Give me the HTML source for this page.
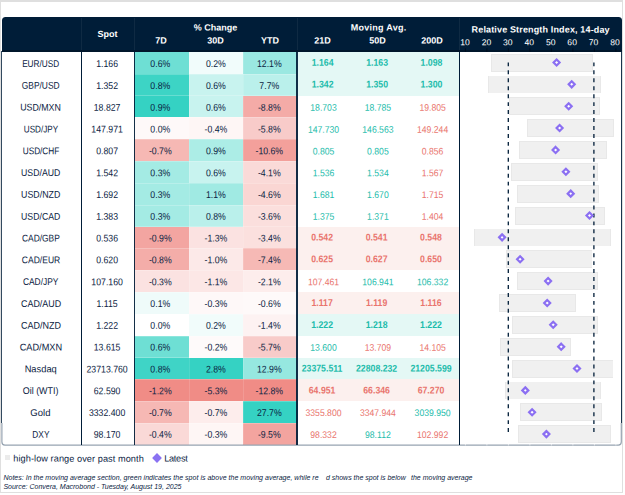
<!DOCTYPE html>
<html><head><meta charset="utf-8"><title>FX table</title>
<style>
html,body{margin:0;padding:0;background:#fff;}
body{width:625px;height:495px;position:relative;overflow:hidden;font-family:"Liberation Sans",sans-serif;}
div,span,svg{position:absolute;box-sizing:border-box;}
.t{white-space:nowrap;text-align:center;color:#0a2242;font-size:9.8px;line-height:12px;height:12px;}
.nm{font-size:9.8px;}
.m{font-size:9.6px;}
.b{font-weight:bold;font-size:9.8px;}
.l{white-space:nowrap;color:#0a2242;line-height:12px;height:12px;}
.h{white-space:nowrap;text-align:center;color:#fff;font-weight:bold;font-size:9px;line-height:12px;height:12px;}
.ax{white-space:nowrap;text-align:center;color:#fff;font-size:8.6px;line-height:12px;height:12px;width:20px;}
.g{color:#1cbcab}.r{color:#e9746d}
.c{}
.v{background:#001d38;}
</style></head><body>

<div style="left:0;top:0;width:623.4px;height:1.6px;background:#dfdfdf"></div>
<div style="left:0;top:0;width:1.3px;height:492.9px;background:#dfdfdf"></div>
<div style="left:622.3px;top:0;width:1.1px;height:492.9px;background:#dfdfdf"></div>
<div style="left:0;top:491.6px;width:623.4px;height:1.3px;background:#dfdfdf"></div>
<div style="left:1.8px;top:17px;width:620.1px;height:34.9px;background:#001d38;border-radius:3.5px 3.5px 0 0;"></div>
<div style="left:1.8px;top:50.2px;width:620.1px;height:1.7px;background:#000;opacity:.22"></div>
<div style="left:80.9px;top:18px;width:1px;height:32.2px;background:#fff;opacity:.06"></div>
<div style="left:133.9px;top:18px;width:1px;height:32.2px;background:#fff;opacity:.06"></div>
<div style="left:296.5px;top:18px;width:1px;height:32.2px;background:#fff;opacity:.06"></div>
<div style="left:458.9px;top:18px;width:1px;height:32.2px;background:#fff;opacity:.06"></div>
<div class="c" style="left:134.4px;top:51.9px;width:55.2px;height:22.63px;background:#6edfd4"></div>
<div class="c" style="left:188.8px;top:51.9px;width:54.9px;height:22.63px;background:#f1fcfb"></div>
<div class="c" style="left:242.9px;top:51.9px;width:54.9px;height:22.63px;background:#9ae8e1"></div>
<div class="c" style="left:297px;top:51.9px;width:162.4px;height:22.63px;background:#e4f8f5"></div>
<div class="c" style="left:134.4px;top:73.73px;width:55.2px;height:22.63px;background:#3dd4c5"></div>
<div class="c" style="left:188.8px;top:73.73px;width:54.9px;height:22.63px;background:#c8f3ef"></div>
<div class="c" style="left:242.9px;top:73.73px;width:54.9px;height:22.63px;background:#baf0eb"></div>
<div class="c" style="left:297px;top:73.73px;width:162.4px;height:21.83px;background:#e4f8f5"></div>
<div class="c" style="left:134.4px;top:95.56px;width:55.2px;height:22.63px;background:#35d2c3"></div>
<div class="c" style="left:188.8px;top:95.56px;width:54.9px;height:22.63px;background:#c8f3ef"></div>
<div class="c" style="left:242.9px;top:95.56px;width:54.9px;height:22.63px;background:#f4aba7"></div>
<div class="c" style="left:134.4px;top:117.39px;width:55.2px;height:22.63px;background:#fef9f9"></div>
<div class="c" style="left:188.8px;top:117.39px;width:54.9px;height:22.63px;background:#fef6f5"></div>
<div class="c" style="left:242.9px;top:117.39px;width:54.9px;height:22.63px;background:#f8cbc9"></div>
<div class="c" style="left:134.4px;top:139.22px;width:55.2px;height:22.63px;background:#f6b8b4"></div>
<div class="c" style="left:188.8px;top:139.22px;width:54.9px;height:22.63px;background:#acede6"></div>
<div class="c" style="left:242.9px;top:139.22px;width:54.9px;height:22.63px;background:#f3a09b"></div>
<div class="c" style="left:134.4px;top:161.05px;width:55.2px;height:22.63px;background:#a4ebe4"></div>
<div class="c" style="left:188.8px;top:161.05px;width:54.9px;height:22.63px;background:#c8f3ef"></div>
<div class="c" style="left:242.9px;top:161.05px;width:54.9px;height:22.63px;background:#fadad8"></div>
<div class="c" style="left:134.4px;top:182.88px;width:55.2px;height:22.63px;background:#a4ebe4"></div>
<div class="c" style="left:188.8px;top:182.88px;width:54.9px;height:22.63px;background:#a0eae3"></div>
<div class="c" style="left:242.9px;top:182.88px;width:54.9px;height:22.63px;background:#fad6d3"></div>
<div class="c" style="left:134.4px;top:204.71px;width:55.2px;height:22.63px;background:#a4ebe4"></div>
<div class="c" style="left:188.8px;top:204.71px;width:54.9px;height:22.63px;background:#baf0eb"></div>
<div class="c" style="left:242.9px;top:204.71px;width:54.9px;height:22.63px;background:#fbdfdd"></div>
<div class="c" style="left:134.4px;top:226.54px;width:55.2px;height:22.63px;background:#f3a5a1"></div>
<div class="c" style="left:188.8px;top:226.54px;width:54.9px;height:22.63px;background:#fbe2e1"></div>
<div class="c" style="left:242.9px;top:226.54px;width:54.9px;height:22.63px;background:#fbe0de"></div>
<div class="c" style="left:297px;top:226.54px;width:162.4px;height:22.63px;background:#fcf0ee"></div>
<div class="c" style="left:134.4px;top:248.37px;width:55.2px;height:22.63px;background:#f4ada9"></div>
<div class="c" style="left:188.8px;top:248.37px;width:54.9px;height:22.63px;background:#fce9e8"></div>
<div class="c" style="left:242.9px;top:248.37px;width:54.9px;height:22.63px;background:#f6b9b5"></div>
<div class="c" style="left:297px;top:248.37px;width:162.4px;height:21.83px;background:#fcf0ee"></div>
<div class="c" style="left:134.4px;top:270.2px;width:55.2px;height:22.63px;background:#fbe2e1"></div>
<div class="c" style="left:188.8px;top:270.2px;width:54.9px;height:22.63px;background:#fce7e6"></div>
<div class="c" style="left:242.9px;top:270.2px;width:54.9px;height:22.63px;background:#fdedec"></div>
<div class="c" style="left:134.4px;top:292.03px;width:55.2px;height:22.63px;background:#effbfa"></div>
<div class="c" style="left:188.8px;top:292.03px;width:54.9px;height:22.63px;background:#fef8f8"></div>
<div class="c" style="left:242.9px;top:292.03px;width:54.9px;height:22.63px;background:#fef9f9"></div>
<div class="c" style="left:297px;top:292.03px;width:162.4px;height:22.63px;background:#fcf0ee"></div>
<div class="c" style="left:134.4px;top:313.86px;width:55.2px;height:22.63px;background:#ffffff"></div>
<div class="c" style="left:188.8px;top:313.86px;width:54.9px;height:22.63px;background:#f1fcfb"></div>
<div class="c" style="left:242.9px;top:313.86px;width:54.9px;height:22.63px;background:#fdf2f2"></div>
<div class="c" style="left:297px;top:313.86px;width:162.4px;height:21.83px;background:#e4f8f5"></div>
<div class="c" style="left:134.4px;top:335.69px;width:55.2px;height:22.63px;background:#6edfd4"></div>
<div class="c" style="left:188.8px;top:335.69px;width:54.9px;height:22.63px;background:#fefafa"></div>
<div class="c" style="left:242.9px;top:335.69px;width:54.9px;height:22.63px;background:#f8cbc9"></div>
<div class="c" style="left:134.4px;top:357.52px;width:55.2px;height:22.63px;background:#3fd4c6"></div>
<div class="c" style="left:188.8px;top:357.52px;width:54.9px;height:22.63px;background:#35d2c3"></div>
<div class="c" style="left:242.9px;top:357.52px;width:54.9px;height:22.63px;background:#96e8e0"></div>
<div class="c" style="left:297px;top:357.52px;width:162.4px;height:22.63px;background:#e4f8f5"></div>
<div class="c" style="left:134.4px;top:379.35px;width:55.2px;height:22.63px;background:#f08c86"></div>
<div class="c" style="left:188.8px;top:379.35px;width:54.9px;height:22.63px;background:#f08c86"></div>
<div class="c" style="left:242.9px;top:379.35px;width:54.9px;height:22.63px;background:#f08c86"></div>
<div class="c" style="left:297px;top:379.35px;width:162.4px;height:21.83px;background:#fcf0ee"></div>
<div class="c" style="left:134.4px;top:401.18px;width:55.2px;height:22.63px;background:#f6b8b4"></div>
<div class="c" style="left:188.8px;top:401.18px;width:54.9px;height:22.63px;background:#fdedec"></div>
<div class="c" style="left:242.9px;top:401.18px;width:54.9px;height:22.63px;background:#35d2c3"></div>
<div class="c" style="left:134.4px;top:423.01px;width:55.2px;height:21.63px;background:#fad9d7"></div>
<div class="c" style="left:188.8px;top:423.01px;width:54.9px;height:21.63px;background:#fef6f5"></div>
<div class="c" style="left:242.9px;top:423.01px;width:54.9px;height:21.63px;background:#f3a49f"></div>
<div style="left:135px;top:73.63px;width:161.4px;height:1px;background:#fff;opacity:.22"></div>
<div style="left:135px;top:95.46px;width:161.4px;height:1px;background:#fff;opacity:.22"></div>
<div style="left:135px;top:117.29px;width:161.4px;height:1px;background:#fff;opacity:.22"></div>
<div style="left:135px;top:139.12px;width:161.4px;height:1px;background:#fff;opacity:.22"></div>
<div style="left:135px;top:160.95px;width:161.4px;height:1px;background:#fff;opacity:.22"></div>
<div style="left:135px;top:182.78px;width:161.4px;height:1px;background:#fff;opacity:.22"></div>
<div style="left:135px;top:204.61px;width:161.4px;height:1px;background:#fff;opacity:.22"></div>
<div style="left:135px;top:226.44px;width:161.4px;height:1px;background:#fff;opacity:.22"></div>
<div style="left:135px;top:248.27px;width:161.4px;height:1px;background:#fff;opacity:.22"></div>
<div style="left:135px;top:270.1px;width:161.4px;height:1px;background:#fff;opacity:.22"></div>
<div style="left:135px;top:291.93px;width:161.4px;height:1px;background:#fff;opacity:.22"></div>
<div style="left:135px;top:313.76px;width:161.4px;height:1px;background:#fff;opacity:.22"></div>
<div style="left:135px;top:335.59px;width:161.4px;height:1px;background:#fff;opacity:.22"></div>
<div style="left:135px;top:357.42px;width:161.4px;height:1px;background:#fff;opacity:.22"></div>
<div style="left:135px;top:379.25px;width:161.4px;height:1px;background:#fff;opacity:.22"></div>
<div style="left:135px;top:401.08px;width:161.4px;height:1px;background:#fff;opacity:.22"></div>
<div style="left:135px;top:422.91px;width:161.4px;height:1px;background:#fff;opacity:.22"></div>
<div style="left:189.3px;top:51.9px;width:1px;height:392.34px;background:#fff;opacity:.13"></div>
<div style="left:243.4px;top:51.9px;width:1px;height:392.34px;background:#fff;opacity:.13"></div>
<div style="left:491.3px;top:53.68px;width:101.7px;height:17.9px;background:#e8e8e8"></div>
<div style="left:492.2px;top:54.58px;width:99.9px;height:16.1px;background:#f0f0f0"></div>
<div style="left:488.1px;top:75.54px;width:113.1px;height:17.9px;background:#e8e8e8"></div>
<div style="left:489px;top:76.44px;width:111.3px;height:16.1px;background:#f0f0f0"></div>
<div style="left:508.7px;top:97.4px;width:90.9px;height:17.9px;background:#e8e8e8"></div>
<div style="left:509.6px;top:98.3px;width:89.1px;height:16.1px;background:#f0f0f0"></div>
<div style="left:526.7px;top:119.26px;width:87px;height:17.9px;background:#e8e8e8"></div>
<div style="left:527.6px;top:120.16px;width:85.2px;height:16.1px;background:#f0f0f0"></div>
<div style="left:518.8px;top:141.12px;width:88.6px;height:17.9px;background:#e8e8e8"></div>
<div style="left:519.7px;top:142.02px;width:86.8px;height:16.1px;background:#f0f0f0"></div>
<div style="left:510.9px;top:162.98px;width:87.3px;height:17.9px;background:#e8e8e8"></div>
<div style="left:511.8px;top:163.88px;width:85.5px;height:16.1px;background:#f0f0f0"></div>
<div style="left:517.4px;top:184.84px;width:82px;height:17.9px;background:#e8e8e8"></div>
<div style="left:518.3px;top:185.74px;width:80.2px;height:16.1px;background:#f0f0f0"></div>
<div style="left:514.6px;top:206.7px;width:90.4px;height:17.9px;background:#e8e8e8"></div>
<div style="left:515.5px;top:207.6px;width:88.6px;height:16.1px;background:#f0f0f0"></div>
<div style="left:473.9px;top:228.56px;width:137px;height:17.9px;background:#e8e8e8"></div>
<div style="left:474.8px;top:229.46px;width:135.2px;height:16.1px;background:#f0f0f0"></div>
<div style="left:505.8px;top:250.42px;width:86.7px;height:17.9px;background:#e8e8e8"></div>
<div style="left:506.7px;top:251.32px;width:84.9px;height:16.1px;background:#f0f0f0"></div>
<div style="left:516.6px;top:272.28px;width:81.2px;height:17.9px;background:#e8e8e8"></div>
<div style="left:517.5px;top:273.18px;width:79.4px;height:16.1px;background:#f0f0f0"></div>
<div style="left:499px;top:294.14px;width:77.2px;height:17.9px;background:#e8e8e8"></div>
<div style="left:499.9px;top:295.04px;width:75.4px;height:16.1px;background:#f0f0f0"></div>
<div style="left:512.4px;top:316px;width:85.5px;height:17.9px;background:#e8e8e8"></div>
<div style="left:513.3px;top:316.9px;width:83.7px;height:16.1px;background:#f0f0f0"></div>
<div style="left:500.2px;top:337.86px;width:70.7px;height:17.9px;background:#e8e8e8"></div>
<div style="left:501.1px;top:338.76px;width:68.9px;height:16.1px;background:#f0f0f0"></div>
<div style="left:511.9px;top:359.72px;width:101.6px;height:17.9px;background:#e8e8e8"></div>
<div style="left:512.8px;top:360.62px;width:99.8px;height:16.1px;background:#f0f0f0"></div>
<div style="left:505.1px;top:381.58px;width:95.7px;height:17.9px;background:#e8e8e8"></div>
<div style="left:506px;top:382.48px;width:93.9px;height:16.1px;background:#f0f0f0"></div>
<div style="left:520.4px;top:403.44px;width:81.2px;height:17.9px;background:#e8e8e8"></div>
<div style="left:521.3px;top:404.34px;width:79.4px;height:16.1px;background:#f0f0f0"></div>
<div style="left:518px;top:425.3px;width:92.9px;height:17.9px;background:#e8e8e8"></div>
<div style="left:518.9px;top:426.2px;width:91.1px;height:16.1px;background:#f0f0f0"></div>
<svg width="625" height="495" viewBox="0 0 625 495" style="left:0;top:0">
<line x1="508.3" y1="62.4" x2="508.3" y2="432.2" stroke="#001d38" stroke-width="1.3" stroke-dasharray="3.95 4"/>
<line x1="593.9" y1="62.4" x2="593.9" y2="432.2" stroke="#001d38" stroke-width="1.3" stroke-dasharray="3.95 4"/>
<path d="M556.6 59.48L559.6 62.48L556.6 65.48L553.6 62.48Z" fill="#fff" stroke="#8b6ff2" stroke-width="2.2" stroke-linejoin="miter"/>
<path d="M571.7 81.34L574.7 84.34L571.7 87.34L568.7 84.34Z" fill="#fff" stroke="#8b6ff2" stroke-width="2.2" stroke-linejoin="miter"/>
<path d="M568.7 103.2L571.7 106.2L568.7 109.2L565.7 106.2Z" fill="#fff" stroke="#8b6ff2" stroke-width="2.2" stroke-linejoin="miter"/>
<path d="M559.6 125.06L562.6 128.06L559.6 131.06L556.6 128.06Z" fill="#fff" stroke="#8b6ff2" stroke-width="2.2" stroke-linejoin="miter"/>
<path d="M555.6 146.92L558.6 149.92L555.6 152.92L552.6 149.92Z" fill="#fff" stroke="#8b6ff2" stroke-width="2.2" stroke-linejoin="miter"/>
<path d="M565.9 168.78L568.9 171.78L565.9 174.78L562.9 171.78Z" fill="#fff" stroke="#8b6ff2" stroke-width="2.2" stroke-linejoin="miter"/>
<path d="M570.7 190.64L573.7 193.64L570.7 196.64L567.7 193.64Z" fill="#fff" stroke="#8b6ff2" stroke-width="2.2" stroke-linejoin="miter"/>
<path d="M589.5 212.5L592.5 215.5L589.5 218.5L586.5 215.5Z" fill="#fff" stroke="#8b6ff2" stroke-width="2.2" stroke-linejoin="miter"/>
<path d="M502.1 234.36L505.1 237.36L502.1 240.36L499.1 237.36Z" fill="#fff" stroke="#8b6ff2" stroke-width="2.2" stroke-linejoin="miter"/>
<path d="M520.1 256.22L523.1 259.22L520.1 262.22L517.1 259.22Z" fill="#fff" stroke="#8b6ff2" stroke-width="2.2" stroke-linejoin="miter"/>
<path d="M548.1 278.08L551.1 281.08L548.1 284.08L545.1 281.08Z" fill="#fff" stroke="#8b6ff2" stroke-width="2.2" stroke-linejoin="miter"/>
<path d="M547.2 299.94L550.2 302.94L547.2 305.94L544.2 302.94Z" fill="#fff" stroke="#8b6ff2" stroke-width="2.2" stroke-linejoin="miter"/>
<path d="M553.2 321.8L556.2 324.8L553.2 327.8L550.2 324.8Z" fill="#fff" stroke="#8b6ff2" stroke-width="2.2" stroke-linejoin="miter"/>
<path d="M561.2 343.66L564.2 346.66L561.2 349.66L558.2 346.66Z" fill="#fff" stroke="#8b6ff2" stroke-width="2.2" stroke-linejoin="miter"/>
<path d="M577 365.52L580 368.52L577 371.52L574 368.52Z" fill="#fff" stroke="#8b6ff2" stroke-width="2.2" stroke-linejoin="miter"/>
<path d="M525.3 387.38L528.3 390.38L525.3 393.38L522.3 390.38Z" fill="#fff" stroke="#8b6ff2" stroke-width="2.2" stroke-linejoin="miter"/>
<path d="M532.1 409.24L535.1 412.24L532.1 415.24L529.1 412.24Z" fill="#fff" stroke="#8b6ff2" stroke-width="2.2" stroke-linejoin="miter"/>
<path d="M546.4 431.1L549.4 434.1L546.4 437.1L543.4 434.1Z" fill="#fff" stroke="#8b6ff2" stroke-width="2.2" stroke-linejoin="miter"/>
<line x1="465.4" y1="48.3" x2="465.4" y2="52" stroke="#000d1c" stroke-width="1"/>
<line x1="486.9" y1="48.3" x2="486.9" y2="52" stroke="#000d1c" stroke-width="1"/>
<line x1="508.4" y1="48.3" x2="508.4" y2="52" stroke="#000d1c" stroke-width="1"/>
<line x1="529.9" y1="48.3" x2="529.9" y2="52" stroke="#000d1c" stroke-width="1"/>
<line x1="551.4" y1="48.3" x2="551.4" y2="52" stroke="#000d1c" stroke-width="1"/>
<line x1="572.9" y1="48.3" x2="572.9" y2="52" stroke="#000d1c" stroke-width="1"/>
<line x1="594.4" y1="48.3" x2="594.4" y2="52" stroke="#000d1c" stroke-width="1"/>
<line x1="615.9" y1="48.3" x2="615.9" y2="52" stroke="#000d1c" stroke-width="1"/>
<path d="M1.9 423.01L1.9 442.1Q1.9 445.1 4.9 445.1L618.3 445.1Q621.3 445.1 621.3 442.1L621.3 423.01" fill="none" stroke="#97a4b1" stroke-width="1.2"/>
<line x1="465.4" y1="444.2" x2="465.4" y2="445.4" stroke="#fff" stroke-width="1" opacity=".8"/>
<line x1="486.9" y1="444.2" x2="486.9" y2="445.4" stroke="#fff" stroke-width="1" opacity=".8"/>
<line x1="508.4" y1="444.2" x2="508.4" y2="445.4" stroke="#fff" stroke-width="1" opacity=".8"/>
<line x1="529.9" y1="444.2" x2="529.9" y2="445.4" stroke="#fff" stroke-width="1" opacity=".8"/>
<line x1="551.4" y1="444.2" x2="551.4" y2="445.4" stroke="#fff" stroke-width="1" opacity=".8"/>
<line x1="572.9" y1="444.2" x2="572.9" y2="445.4" stroke="#fff" stroke-width="1" opacity=".8"/>
<line x1="594.4" y1="444.2" x2="594.4" y2="445.4" stroke="#fff" stroke-width="1" opacity=".8"/>
<line x1="615.9" y1="444.2" x2="615.9" y2="445.4" stroke="#fff" stroke-width="1" opacity=".8"/>
</svg>
<div class="v" style="left:1.3px;top:50.9px;width:1.2px;height:372.11px;opacity:.8"></div>
<div class="v" style="left:620.7px;top:50.9px;width:1.2px;height:372.11px;opacity:.9"></div>
<div class="v" style="left:80.9px;top:51.9px;width:1px;height:392.8px;"></div>
<div class="v" style="left:133.75px;top:51.9px;width:1.3px;height:392.8px;opacity:.92"></div>
<div class="v" style="left:296.35px;top:51.9px;width:1.3px;height:392.8px;opacity:.92"></div>
<div class="v" style="left:458.75px;top:51.9px;width:1.3px;height:392.8px;"></div>
<div class="h" style="left:27px;top:28px;width:160px;transform:translate(0.5px,0px) scaleX(1) rotate(.03deg)">Spot</div>
<div class="h" style="left:135px;top:21px;width:160px;transform:translate(0.5px,0.6px) scaleX(1) rotate(.03deg)">% Change</div>
<div class="h" style="left:81px;top:34px;width:160px;transform:translate(0px,0.6px) scaleX(1) rotate(.03deg)">7D</div>
<div class="h" style="left:135px;top:34px;width:160px;transform:translate(0.6px,0.6px) scaleX(1) rotate(.03deg)">30D</div>
<div class="h" style="left:190px;top:34px;width:160px;transform:translate(0.1px,0.6px) scaleX(1) rotate(.03deg)">YTD</div>
<div class="h" style="left:298px;top:21px;width:160px;transform:translate(0.6px,0.6px) scaleX(1) rotate(.03deg)"><span style="position:static;letter-spacing:.25px">Moving Avg.</span></div>
<div class="h" style="left:242px;top:34px;width:160px;transform:translate(0.4px,0.6px) scaleX(1) rotate(.03deg)">21D</div>
<div class="h" style="left:297px;top:34px;width:160px;transform:translate(0.5px,0.6px) scaleX(1) rotate(.03deg)">50D</div>
<div class="h" style="left:351px;top:34px;width:160px;transform:translate(0.9px,0.6px) scaleX(1) rotate(.03deg)">200D</div>
<div class="h" style="left:440px;top:23px;width:200px;transform:translate(0.7px,0.6px) scaleX(1) rotate(.03deg)"><span style="position:static;letter-spacing:.15px">Relative Strength Index, 14-day</span></div>
<div class="ax" style="left:455px;top:36px;width:20px;transform:translate(0px,0.3px) scaleX(1) rotate(.03deg)">10</div>
<div class="ax" style="left:476px;top:36px;width:20px;transform:translate(0.43px,0.3px) scaleX(1) rotate(.03deg)">20</div>
<div class="ax" style="left:497px;top:36px;width:20px;transform:translate(0.86px,0.3px) scaleX(1) rotate(.03deg)">30</div>
<div class="ax" style="left:519px;top:36px;width:20px;transform:translate(0.29px,0.3px) scaleX(1) rotate(.03deg)">40</div>
<div class="ax" style="left:540px;top:36px;width:20px;transform:translate(0.72px,0.3px) scaleX(1) rotate(.03deg)">50</div>
<div class="ax" style="left:562px;top:36px;width:20px;transform:translate(0.15px,0.3px) scaleX(1) rotate(.03deg)">60</div>
<div class="ax" style="left:583px;top:36px;width:20px;transform:translate(0.58px,0.3px) scaleX(1) rotate(.03deg)">70</div>
<div class="ax" style="left:605px;top:36px;width:20px;transform:translate(0.01px,0.3px) scaleX(1) rotate(.03deg)">80</div>
<div class="t nm" style="left:5px;top:58px;width:70px;transform:translate(0.65px,0.02px) scaleX(0.84) rotate(.03deg)">EUR/USD</div>
<div class="t" style="left:72px;top:58px;width:70px;transform:translate(0.1px,0.12px) scaleX(0.89) rotate(.03deg)">1.166</div>
<div class="t" style="left:125px;top:58px;width:70px;transform:translate(0.3px,0.12px) scaleX(0.89) rotate(.03deg)">0.6%</div>
<div class="t" style="left:180px;top:58px;width:70px;transform:translate(0.9px,0.12px) scaleX(0.89) rotate(.03deg)">0.2%</div>
<div class="t" style="left:234px;top:58px;width:70px;transform:translate(0.3px,0.12px) scaleX(0.89) rotate(.03deg)">12.1%</div>
<div class="t b g" style="left:287px;top:56px;width:70px;transform:translate(0.6px,0.72px) scaleX(0.89) rotate(.03deg)">1.164</div>
<div class="t b g" style="left:342px;top:56px;width:70px;transform:translate(0.1px,0.72px) scaleX(0.89) rotate(.03deg)">1.163</div>
<div class="t b g" style="left:396px;top:56px;width:70px;transform:translate(0.5px,0.72px) scaleX(0.89) rotate(.03deg)">1.098</div>
<div class="t nm" style="left:5px;top:79px;width:70px;transform:translate(0.7px,0.83px) scaleX(0.86) rotate(.03deg)">GBP/USD</div>
<div class="t" style="left:72px;top:79px;width:70px;transform:translate(0.1px,0.93px) scaleX(0.89) rotate(.03deg)">1.352</div>
<div class="t" style="left:125px;top:79px;width:70px;transform:translate(0.3px,0.93px) scaleX(0.89) rotate(.03deg)">0.8%</div>
<div class="t" style="left:180px;top:79px;width:70px;transform:translate(0.9px,0.93px) scaleX(0.89) rotate(.03deg)">0.6%</div>
<div class="t" style="left:234px;top:79px;width:70px;transform:translate(0.3px,0.93px) scaleX(0.89) rotate(.03deg)">7.7%</div>
<div class="t b g" style="left:287px;top:78px;width:70px;transform:translate(0.6px,0.57px) scaleX(0.89) rotate(.03deg)">1.342</div>
<div class="t b g" style="left:342px;top:78px;width:70px;transform:translate(0.1px,0.57px) scaleX(0.89) rotate(.03deg)">1.350</div>
<div class="t b g" style="left:396px;top:78px;width:70px;transform:translate(0.5px,0.57px) scaleX(0.89) rotate(.03deg)">1.300</div>
<div class="t nm" style="left:5px;top:101px;width:70px;transform:translate(0.55px,0.63px) scaleX(0.9) rotate(.03deg)">USD/MXN</div>
<div class="t" style="left:72px;top:101px;width:70px;transform:translate(0.1px,0.73px) scaleX(0.89) rotate(.03deg)">18.827</div>
<div class="t" style="left:125px;top:101px;width:70px;transform:translate(0.3px,0.73px) scaleX(0.89) rotate(.03deg)">0.9%</div>
<div class="t" style="left:180px;top:101px;width:70px;transform:translate(0.9px,0.73px) scaleX(0.89) rotate(.03deg)">0.6%</div>
<div class="t" style="left:234px;top:101px;width:70px;transform:translate(0.3px,0.73px) scaleX(0.89) rotate(.03deg)">-8.8%</div>
<div class="t m g" style="left:288px;top:101px;width:70px;transform:translate(0.5px,0.83px) scaleX(0.9) rotate(.03deg)">18.703</div>
<div class="t m g" style="left:342px;top:101px;width:70px;transform:translate(0.9px,0.83px) scaleX(0.9) rotate(.03deg)">18.785</div>
<div class="t m r" style="left:397px;top:101px;width:70px;transform:translate(0.6px,0.83px) scaleX(0.9) rotate(.03deg)">19.805</div>
<div class="t nm" style="left:6px;top:123px;width:70px;transform:translate(0px,0.44px) scaleX(0.83) rotate(.03deg)">USD/JPY</div>
<div class="t" style="left:72px;top:123px;width:70px;transform:translate(0.1px,0.54px) scaleX(0.89) rotate(.03deg)">147.971</div>
<div class="t" style="left:125px;top:123px;width:70px;transform:translate(0.3px,0.54px) scaleX(0.89) rotate(.03deg)">0.0%</div>
<div class="t" style="left:180px;top:123px;width:70px;transform:translate(0.9px,0.54px) scaleX(0.89) rotate(.03deg)">-0.4%</div>
<div class="t" style="left:234px;top:123px;width:70px;transform:translate(0.3px,0.54px) scaleX(0.89) rotate(.03deg)">-5.8%</div>
<div class="t m g" style="left:288px;top:123px;width:70px;transform:translate(0.5px,0.64px) scaleX(0.9) rotate(.03deg)">147.730</div>
<div class="t m g" style="left:342px;top:123px;width:70px;transform:translate(0.9px,0.64px) scaleX(0.9) rotate(.03deg)">146.563</div>
<div class="t m r" style="left:397px;top:123px;width:70px;transform:translate(0.6px,0.64px) scaleX(0.9) rotate(.03deg)">149.244</div>
<div class="t nm" style="left:6px;top:145px;width:70px;transform:translate(0px,0.24px) scaleX(0.84) rotate(.03deg)">USD/CHF</div>
<div class="t" style="left:72px;top:145px;width:70px;transform:translate(0.1px,0.34px) scaleX(0.89) rotate(.03deg)">0.807</div>
<div class="t" style="left:125px;top:145px;width:70px;transform:translate(0.3px,0.34px) scaleX(0.89) rotate(.03deg)">-0.7%</div>
<div class="t" style="left:180px;top:145px;width:70px;transform:translate(0.9px,0.34px) scaleX(0.89) rotate(.03deg)">0.9%</div>
<div class="t" style="left:234px;top:145px;width:70px;transform:translate(0.3px,0.34px) scaleX(0.89) rotate(.03deg)">-10.6%</div>
<div class="t m g" style="left:288px;top:145px;width:70px;transform:translate(0.5px,0.44px) scaleX(0.9) rotate(.03deg)">0.805</div>
<div class="t m g" style="left:342px;top:145px;width:70px;transform:translate(0.9px,0.44px) scaleX(0.9) rotate(.03deg)">0.805</div>
<div class="t m r" style="left:397px;top:145px;width:70px;transform:translate(0.6px,0.44px) scaleX(0.9) rotate(.03deg)">0.856</div>
<div class="t nm" style="left:5px;top:167px;width:70px;transform:translate(0.7px,0.05px) scaleX(0.89) rotate(.03deg)">USD/AUD</div>
<div class="t" style="left:72px;top:167px;width:70px;transform:translate(0.1px,0.15px) scaleX(0.89) rotate(.03deg)">1.542</div>
<div class="t" style="left:125px;top:167px;width:70px;transform:translate(0.3px,0.15px) scaleX(0.89) rotate(.03deg)">0.3%</div>
<div class="t" style="left:180px;top:167px;width:70px;transform:translate(0.9px,0.15px) scaleX(0.89) rotate(.03deg)">0.6%</div>
<div class="t" style="left:234px;top:167px;width:70px;transform:translate(0.3px,0.15px) scaleX(0.89) rotate(.03deg)">-4.1%</div>
<div class="t m g" style="left:288px;top:167px;width:70px;transform:translate(0.5px,0.25px) scaleX(0.9) rotate(.03deg)">1.536</div>
<div class="t m g" style="left:342px;top:167px;width:70px;transform:translate(0.9px,0.25px) scaleX(0.9) rotate(.03deg)">1.534</div>
<div class="t m r" style="left:397px;top:167px;width:70px;transform:translate(0.6px,0.25px) scaleX(0.9) rotate(.03deg)">1.567</div>
<div class="t nm" style="left:5px;top:188px;width:70px;transform:translate(0.7px,0.86px) scaleX(0.9) rotate(.03deg)">USD/NZD</div>
<div class="t" style="left:72px;top:188px;width:70px;transform:translate(0.1px,0.96px) scaleX(0.89) rotate(.03deg)">1.692</div>
<div class="t" style="left:125px;top:188px;width:70px;transform:translate(0.3px,0.96px) scaleX(0.89) rotate(.03deg)">0.3%</div>
<div class="t" style="left:180px;top:188px;width:70px;transform:translate(0.9px,0.96px) scaleX(0.89) rotate(.03deg)">1.1%</div>
<div class="t" style="left:234px;top:188px;width:70px;transform:translate(0.3px,0.96px) scaleX(0.89) rotate(.03deg)">-4.6%</div>
<div class="t m g" style="left:288px;top:189px;width:70px;transform:translate(0.5px,0.06px) scaleX(0.9) rotate(.03deg)">1.681</div>
<div class="t m g" style="left:342px;top:189px;width:70px;transform:translate(0.9px,0.06px) scaleX(0.9) rotate(.03deg)">1.670</div>
<div class="t m r" style="left:397px;top:189px;width:70px;transform:translate(0.6px,0.06px) scaleX(0.9) rotate(.03deg)">1.715</div>
<div class="t nm" style="left:5px;top:210px;width:70px;transform:translate(0.7px,0.66px) scaleX(0.89) rotate(.03deg)">USD/CAD</div>
<div class="t" style="left:72px;top:210px;width:70px;transform:translate(0.1px,0.76px) scaleX(0.89) rotate(.03deg)">1.383</div>
<div class="t" style="left:125px;top:210px;width:70px;transform:translate(0.3px,0.76px) scaleX(0.89) rotate(.03deg)">0.3%</div>
<div class="t" style="left:180px;top:210px;width:70px;transform:translate(0.9px,0.76px) scaleX(0.89) rotate(.03deg)">0.8%</div>
<div class="t" style="left:234px;top:210px;width:70px;transform:translate(0.3px,0.76px) scaleX(0.89) rotate(.03deg)">-3.6%</div>
<div class="t m g" style="left:288px;top:210px;width:70px;transform:translate(0.5px,0.86px) scaleX(0.9) rotate(.03deg)">1.375</div>
<div class="t m g" style="left:342px;top:210px;width:70px;transform:translate(0.9px,0.86px) scaleX(0.9) rotate(.03deg)">1.371</div>
<div class="t m r" style="left:397px;top:210px;width:70px;transform:translate(0.6px,0.86px) scaleX(0.9) rotate(.03deg)">1.404</div>
<div class="t nm" style="left:5px;top:232px;width:70px;transform:translate(0.9px,0.47px) scaleX(0.86) rotate(.03deg)">CAD/GBP</div>
<div class="t" style="left:72px;top:232px;width:70px;transform:translate(0.1px,0.57px) scaleX(0.89) rotate(.03deg)">0.536</div>
<div class="t" style="left:125px;top:232px;width:70px;transform:translate(0.3px,0.57px) scaleX(0.89) rotate(.03deg)">-0.9%</div>
<div class="t" style="left:180px;top:232px;width:70px;transform:translate(0.9px,0.57px) scaleX(0.89) rotate(.03deg)">-1.3%</div>
<div class="t" style="left:234px;top:232px;width:70px;transform:translate(0.3px,0.57px) scaleX(0.89) rotate(.03deg)">-3.4%</div>
<div class="t b r" style="left:287px;top:231px;width:70px;transform:translate(0.1px,0.52px) scaleX(0.89) rotate(.03deg)">0.542</div>
<div class="t b r" style="left:341px;top:231px;width:70px;transform:translate(0.6px,0.52px) scaleX(0.89) rotate(.03deg)">0.541</div>
<div class="t b r" style="left:396px;top:231px;width:70px;transform:translate(0px,0.52px) scaleX(0.89) rotate(.03deg)">0.548</div>
<div class="t nm" style="left:6px;top:254px;width:70px;transform:translate(0.05px,0.27px) scaleX(0.87) rotate(.03deg)">CAD/EUR</div>
<div class="t" style="left:72px;top:254px;width:70px;transform:translate(0.1px,0.37px) scaleX(0.89) rotate(.03deg)">0.620</div>
<div class="t" style="left:125px;top:254px;width:70px;transform:translate(0.3px,0.37px) scaleX(0.89) rotate(.03deg)">-0.8%</div>
<div class="t" style="left:180px;top:254px;width:70px;transform:translate(0.9px,0.37px) scaleX(0.89) rotate(.03deg)">-1.0%</div>
<div class="t" style="left:234px;top:254px;width:70px;transform:translate(0.3px,0.37px) scaleX(0.89) rotate(.03deg)">-7.4%</div>
<div class="t b r" style="left:287px;top:253px;width:70px;transform:translate(0.1px,0.37px) scaleX(0.89) rotate(.03deg)">0.625</div>
<div class="t b r" style="left:341px;top:253px;width:70px;transform:translate(0.6px,0.37px) scaleX(0.89) rotate(.03deg)">0.627</div>
<div class="t b r" style="left:396px;top:253px;width:70px;transform:translate(0px,0.37px) scaleX(0.89) rotate(.03deg)">0.650</div>
<div class="t nm" style="left:5px;top:276px;width:70px;transform:translate(0.7px,0.08px) scaleX(0.86) rotate(.03deg)">CAD/JPY</div>
<div class="t" style="left:72px;top:276px;width:70px;transform:translate(0.1px,0.18px) scaleX(0.89) rotate(.03deg)">107.160</div>
<div class="t" style="left:125px;top:276px;width:70px;transform:translate(0.3px,0.18px) scaleX(0.89) rotate(.03deg)">-0.3%</div>
<div class="t" style="left:180px;top:276px;width:70px;transform:translate(0.9px,0.18px) scaleX(0.89) rotate(.03deg)">-1.1%</div>
<div class="t" style="left:234px;top:276px;width:70px;transform:translate(0.3px,0.18px) scaleX(0.89) rotate(.03deg)">-2.1%</div>
<div class="t m r" style="left:288px;top:276px;width:70px;transform:translate(0.5px,0.28px) scaleX(0.9) rotate(.03deg)">107.461</div>
<div class="t m g" style="left:342px;top:276px;width:70px;transform:translate(0.9px,0.28px) scaleX(0.9) rotate(.03deg)">106.941</div>
<div class="t m g" style="left:397px;top:276px;width:70px;transform:translate(0.6px,0.28px) scaleX(0.9) rotate(.03deg)">106.332</div>
<div class="t nm" style="left:6px;top:297px;width:70px;transform:translate(0.1px,0.89px) scaleX(0.91) rotate(.03deg)">CAD/AUD</div>
<div class="t" style="left:72px;top:297px;width:70px;transform:translate(0.1px,0.99px) scaleX(0.89) rotate(.03deg)">1.115</div>
<div class="t" style="left:125px;top:297px;width:70px;transform:translate(0.3px,0.99px) scaleX(0.89) rotate(.03deg)">0.1%</div>
<div class="t" style="left:180px;top:297px;width:70px;transform:translate(0.9px,0.99px) scaleX(0.89) rotate(.03deg)">-0.3%</div>
<div class="t" style="left:234px;top:297px;width:70px;transform:translate(0.3px,0.99px) scaleX(0.89) rotate(.03deg)">-0.6%</div>
<div class="t b r" style="left:287px;top:297px;width:70px;transform:translate(0.1px,0.07px) scaleX(0.89) rotate(.03deg)">1.117</div>
<div class="t b r" style="left:341px;top:297px;width:70px;transform:translate(0.6px,0.07px) scaleX(0.89) rotate(.03deg)">1.119</div>
<div class="t b r" style="left:396px;top:297px;width:70px;transform:translate(0px,0.07px) scaleX(0.89) rotate(.03deg)">1.116</div>
<div class="t nm" style="left:6px;top:319px;width:70px;transform:translate(0.1px,0.69px) scaleX(0.92) rotate(.03deg)">CAD/NZD</div>
<div class="t" style="left:72px;top:319px;width:70px;transform:translate(0.1px,0.79px) scaleX(0.89) rotate(.03deg)">1.222</div>
<div class="t" style="left:125px;top:319px;width:70px;transform:translate(0.3px,0.79px) scaleX(0.89) rotate(.03deg)">0.0%</div>
<div class="t" style="left:180px;top:319px;width:70px;transform:translate(0.9px,0.79px) scaleX(0.89) rotate(.03deg)">0.2%</div>
<div class="t" style="left:234px;top:319px;width:70px;transform:translate(0.3px,0.79px) scaleX(0.89) rotate(.03deg)">-1.4%</div>
<div class="t b g" style="left:287px;top:318px;width:70px;transform:translate(0.1px,0.92px) scaleX(0.89) rotate(.03deg)">1.222</div>
<div class="t b g" style="left:341px;top:318px;width:70px;transform:translate(0.6px,0.92px) scaleX(0.89) rotate(.03deg)">1.218</div>
<div class="t b g" style="left:396px;top:318px;width:70px;transform:translate(0px,0.92px) scaleX(0.89) rotate(.03deg)">1.222</div>
<div class="t nm" style="left:5px;top:341px;width:70px;transform:translate(0.9px,0.5px) scaleX(0.94) rotate(.03deg)">CAD/MXN</div>
<div class="t" style="left:72px;top:341px;width:70px;transform:translate(0.1px,0.6px) scaleX(0.89) rotate(.03deg)">13.615</div>
<div class="t" style="left:125px;top:341px;width:70px;transform:translate(0.3px,0.6px) scaleX(0.89) rotate(.03deg)">0.6%</div>
<div class="t" style="left:180px;top:341px;width:70px;transform:translate(0.9px,0.6px) scaleX(0.89) rotate(.03deg)">-0.2%</div>
<div class="t" style="left:234px;top:341px;width:70px;transform:translate(0.3px,0.6px) scaleX(0.89) rotate(.03deg)">-5.7%</div>
<div class="t m g" style="left:288px;top:341px;width:70px;transform:translate(0.5px,0.7px) scaleX(0.9) rotate(.03deg)">13.600</div>
<div class="t m r" style="left:342px;top:341px;width:70px;transform:translate(0.9px,0.7px) scaleX(0.9) rotate(.03deg)">13.709</div>
<div class="t m r" style="left:397px;top:341px;width:70px;transform:translate(0.6px,0.7px) scaleX(0.9) rotate(.03deg)">14.105</div>
<div class="t nm" style="left:5px;top:363px;width:70px;transform:translate(0.7px,0.3px) scaleX(0.95) rotate(.03deg)">Nasdaq</div>
<div class="t" style="left:72px;top:363px;width:70px;transform:translate(0.1px,0.4px) scaleX(0.89) rotate(.03deg)">23713.760</div>
<div class="t" style="left:125px;top:363px;width:70px;transform:translate(0.3px,0.4px) scaleX(0.89) rotate(.03deg)">0.8%</div>
<div class="t" style="left:180px;top:363px;width:70px;transform:translate(0.9px,0.4px) scaleX(0.89) rotate(.03deg)">2.8%</div>
<div class="t" style="left:234px;top:363px;width:70px;transform:translate(0.3px,0.4px) scaleX(0.89) rotate(.03deg)">12.9%</div>
<div class="t b g" style="left:287px;top:362px;width:70px;transform:translate(0.1px,0.62px) scaleX(0.89) rotate(.03deg)">23375.511</div>
<div class="t b g" style="left:341px;top:362px;width:70px;transform:translate(0.6px,0.62px) scaleX(0.89) rotate(.03deg)">22808.232</div>
<div class="t b g" style="left:396px;top:362px;width:70px;transform:translate(0px,0.62px) scaleX(0.89) rotate(.03deg)">21205.599</div>
<div class="t nm" style="left:5px;top:385px;width:70px;transform:translate(0.6px,0.11px) scaleX(0.91) rotate(.03deg)">Oil (WTI)</div>
<div class="t" style="left:72px;top:385px;width:70px;transform:translate(0.1px,0.21px) scaleX(0.89) rotate(.03deg)">62.590</div>
<div class="t" style="left:125px;top:385px;width:70px;transform:translate(0.3px,0.21px) scaleX(0.89) rotate(.03deg)">-1.2%</div>
<div class="t" style="left:180px;top:385px;width:70px;transform:translate(0.9px,0.21px) scaleX(0.89) rotate(.03deg)">-5.3%</div>
<div class="t" style="left:234px;top:385px;width:70px;transform:translate(0.3px,0.21px) scaleX(0.89) rotate(.03deg)">-12.8%</div>
<div class="t b r" style="left:287px;top:384px;width:70px;transform:translate(0.1px,0.47px) scaleX(0.89) rotate(.03deg)">64.951</div>
<div class="t b r" style="left:341px;top:384px;width:70px;transform:translate(0.6px,0.47px) scaleX(0.89) rotate(.03deg)">66.346</div>
<div class="t b r" style="left:396px;top:384px;width:70px;transform:translate(0px,0.47px) scaleX(0.89) rotate(.03deg)">67.270</div>
<div class="t nm" style="left:5px;top:406px;width:70px;transform:translate(0.4px,0.92px) scaleX(0.97) rotate(.03deg)">Gold</div>
<div class="t" style="left:72px;top:407px;width:70px;transform:translate(0.1px,0.02px) scaleX(0.89) rotate(.03deg)">3332.400</div>
<div class="t" style="left:125px;top:407px;width:70px;transform:translate(0.3px,0.02px) scaleX(0.89) rotate(.03deg)">-0.7%</div>
<div class="t" style="left:180px;top:407px;width:70px;transform:translate(0.9px,0.02px) scaleX(0.89) rotate(.03deg)">-0.7%</div>
<div class="t" style="left:234px;top:407px;width:70px;transform:translate(0.3px,0.02px) scaleX(0.89) rotate(.03deg)">27.7%</div>
<div class="t m r" style="left:288px;top:407px;width:70px;transform:translate(0.5px,0.12px) scaleX(0.9) rotate(.03deg)">3355.800</div>
<div class="t m r" style="left:342px;top:407px;width:70px;transform:translate(0.9px,0.12px) scaleX(0.9) rotate(.03deg)">3347.944</div>
<div class="t m g" style="left:397px;top:407px;width:70px;transform:translate(0.6px,0.12px) scaleX(0.9) rotate(.03deg)">3039.950</div>
<div class="t nm" style="left:5px;top:428px;width:70px;transform:translate(0.9px,0.72px) scaleX(0.85) rotate(.03deg)">DXY</div>
<div class="t" style="left:72px;top:428px;width:70px;transform:translate(0.1px,0.82px) scaleX(0.89) rotate(.03deg)">98.170</div>
<div class="t" style="left:125px;top:428px;width:70px;transform:translate(0.3px,0.82px) scaleX(0.89) rotate(.03deg)">-0.4%</div>
<div class="t" style="left:180px;top:428px;width:70px;transform:translate(0.9px,0.82px) scaleX(0.89) rotate(.03deg)">-0.3%</div>
<div class="t" style="left:234px;top:428px;width:70px;transform:translate(0.3px,0.82px) scaleX(0.89) rotate(.03deg)">-9.5%</div>
<div class="t m r" style="left:288px;top:428px;width:70px;transform:translate(0.5px,0.92px) scaleX(0.9) rotate(.03deg)">98.332</div>
<div class="t m g" style="left:342px;top:428px;width:70px;transform:translate(0.9px,0.92px) scaleX(0.9) rotate(.03deg)">98.112</div>
<div class="t m r" style="left:397px;top:428px;width:70px;transform:translate(0.6px,0.92px) scaleX(0.9) rotate(.03deg)">102.992</div>
<div style="left:5.4px;top:455.3px;width:4.8px;height:4.8px;background:#ebebeb"></div>
<div class="l" style="left:13px;top:452px;font-size:9.2px;letter-spacing:.06px;transform-origin:0 50%;transform:translate(.3px,.6px) rotate(.03deg)">high-low range over past month</div>
<svg width="12" height="12" viewBox="0 0 12 12" style="left:150.8px;top:451.6px"><path d="M6 1.1L10.9 6L6 10.9L1.1 6Z" fill="#8a72f2"/></svg>
<div class="l" style="left:164px;top:452px;font-size:9.2px;letter-spacing:-.3px;transform-origin:0 50%;transform:translate(.2px,.6px) rotate(.03deg)">Latest</div>
<div class="l" style="left:3.4px;top:471.6px;font-size:7px;font-style:italic;letter-spacing:.02px">Notes: In the moving average section, green indicates the spot is above the moving average, while re</div>
<div class="l" style="left:326px;top:471.6px;font-size:7px;font-style:italic">d shows the spot is below</div>
<div class="l" style="left:411px;top:471.6px;font-size:7px;font-style:italic">the moving average</div>
<div class="l" style="left:3.4px;top:481px;font-size:7px;font-style:italic">Source: Convera, Macrobond - Tuesday, August 19, 2025</div>
</body></html>
